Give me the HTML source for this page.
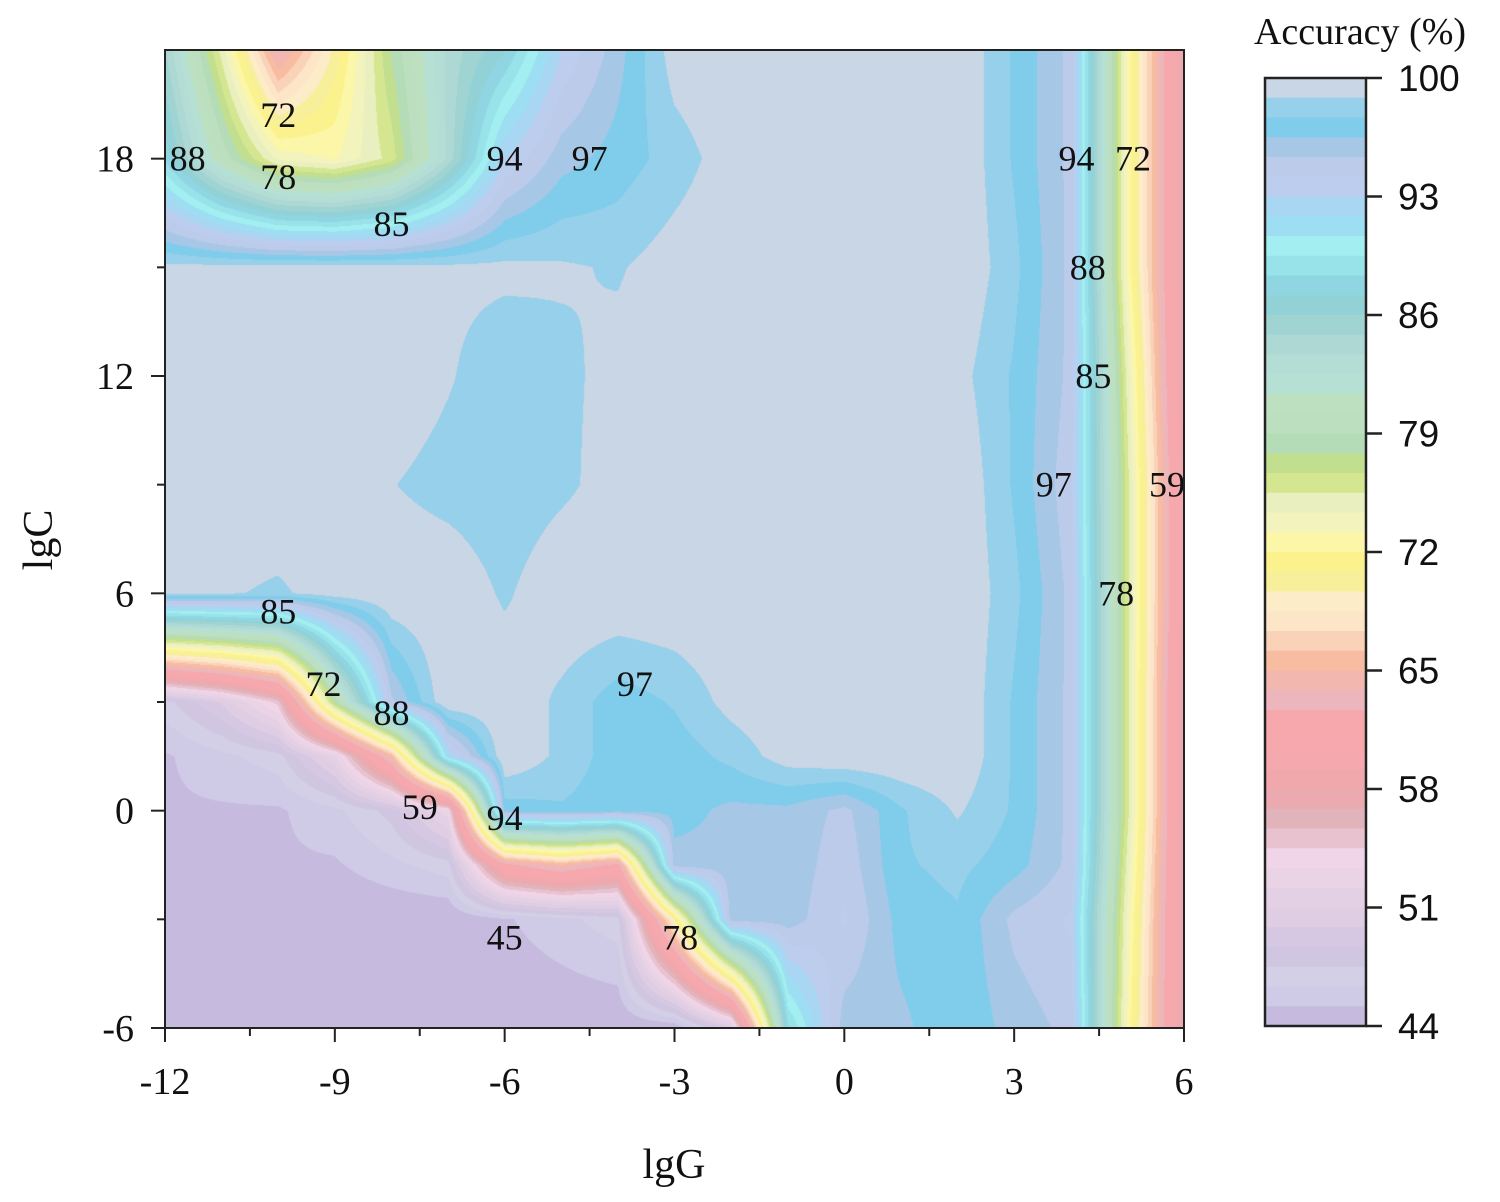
<!DOCTYPE html>
<html><head><meta charset="utf-8"><style>
html,body{margin:0;padding:0;background:#fff;}
#wrap{position:relative;width:1500px;height:1202px;font-family:"Liberation Serif",serif;}
canvas{position:absolute;left:165px;top:50px;}
svg{position:absolute;left:0;top:0;}
</style></head><body>
<div id="wrap">
<canvas id="cv" width="1019" height="978"></canvas>
<svg id="sv" width="1500" height="1202"></svg>
</div>
<script>
// lgG grid columns and lgC grid rows (top to bottom)
const lgGValues = [-12,-11,-10,-9,-8,-7,-6,-5,-4,-3,-2,-1,0,1,2,3,4,5,6];
const lgCValues = [21,18,15,12,9,6,3,1.5,0,-1.5,-3,-6];
// accuracy (%) at each grid node
const accRow21 = [85,75,63,70,78,84,87,93,96,99.5,100,100,100,100,100,97.5,95,73,57];
const accRow18 = [88,80,74,73,76,84,93,96,97,98.2,99.5,100,100,100,100,97.5,95,73,57];
const accRow15 = [99.2,99.3,99.3,99.3,99.3,99.2,99.2,99.0,98.7,99.5,100,100,100,100,100,98,95,73,57];
const accRow12 = [100,100,100,100,100,99,97.8,98.5,99.3,100,100,100,100,100,99.3,97.5,95,75,57];
const accRow9  = [100,100,100,100,98.9,98.2,97.8,98.5,99.5,100,100,100,100,100,100,97.5,94.5,76,58];
const accRow6  = [99,99,98.6,99.5,100,100,98.6,100,100,100,100,100,100,100,100,98,95,76,58];
const accRow3  = [47,50,55,78,95,100,100,98.5,97,97.8,99.3,100,100,100,100,97.5,95,76,57];
const accRow1p5= [45,46,47,52,65,92,100,98.5,97,97,98,99.5,100,100,100,97.5,95,76,57];
const accRow0  = [45,45,45,46,48,53,97,97.5,97,97,96.2,96.2,95,97.5,99,97.5,95,76,57];
const accRowM1p5=[44.5,44.5,45,45,46,47,62,65,62,96,96.2,96.2,94.5,97.5,98,97,95,75,57];
const accRowM3 = [44,44,44,44,44,44,45,46,47,70,96,96,94,97,97.5,95,94,74,57];
const accRowM6 = [44,44,44,44,44,44,44,44,44,44,50,88,96,96.2,97.5,96,95,73,57];
const accGrid = [accRow21,accRow18,accRow15,accRow12,accRow9,accRow6,accRow3,accRow1p5,accRow0,accRowM1p5,accRowM3,accRowM6];
// colour levels from 100 (top) down to 44
const levelColors = ["#c9d6e5","#97d0ea","#7fcdeb","#a6c8e6","#bccbea","#bdcdee","#a8d6f3","#9edef2","#a2eef0","#98e2ea","#8fd6e2","#92d2d6","#9fd4d3","#add8d4","#b4ddd6","#b6e0d4","#bde0c0","#bcdfbf","#b4dcb6","#c2de8f","#d4e690","#e9efbe","#f3f3be","#fbf6a8","#fbf28e","#f8ef9b","#fdecc8","#fde5c8","#f9d2b8","#f8bca0","#f2b8b0","#ecb6bc","#f6a8ac","#f6a8ac","#f5a9ae","#f1a8ac","#ebaab0","#e1b4bc","#e9c2cf","#efd5e7","#ebd3e6","#e3d0e5","#dfcde3","#d6c8e2","#d0c6e2","#d2cfe6","#cfcae5","#c6bbde"];
const xTicks = [-12,-9,-6,-3,0,3,6];
const yTicks = [-6,0,6,12,18];
const cbTicks = [100,93,86,79,72,65,58,51,44];
const contourLabels = ["88","72","78","85","94","97","94","72","88","85","97","59","78","85","72","88","97","59","94","45","78"];
const labelG = [-11.6,-10,-10,-8,-6,-4.5,4.1,5.1,4.3,4.4,3.7,5.7,4.8,-10,-9.2,-8,-3.7,-7.5,-6,-6,-2.9];
const labelC = [18,19.2,17.5,16.2,18,18,18,18,15,12,9,9,6,5.5,3.5,2.7,3.5,0.1,-0.2,-3.5,-3.5];

const X0=165,X1=1184,Y0=50,Y1=1028;
const GMIN=-12,GMAX=6,CMIN=-6,CMAX=21;
function xPx(g){return X0+(g-GMIN)*(X1-X0)/(GMAX-GMIN);}
function yPx(c){return Y1-(c-CMIN)*(Y1-Y0)/(CMAX-CMIN);}
function hex(c){return [parseInt(c.substr(1,2),16),parseInt(c.substr(3,2),16),parseInt(c.substr(5,2),16)];}
function valueAt(g,c){
  const gs=lgGValues, cs=lgCValues;
  let i=0;while(i<gs.length-2&&g>gs[i+1])i++;
  let j=0;while(j<cs.length-2&&c<cs[j+1])j++;
  const tx=(g-gs[i])/(gs[i+1]-gs[i]), ty=(c-cs[j])/(cs[j+1]-cs[j]);
  const a=accGrid[j][i],b=accGrid[j][i+1],d=accGrid[j+1][i],e=accGrid[j+1][i+1];
  return a*(1-tx)*(1-ty)+b*tx*(1-ty)+d*(1-tx)*ty+e*tx*ty;
}
const cv=document.getElementById('cv'),ctx=cv.getContext('2d');
const W=cv.width,H=cv.height,img=ctx.createImageData(W,H);
const rgb=levelColors.map(hex);
for(let py=0;py<H;py++){
  const c=CMAX-(py+0.5)*(CMAX-CMIN)/H;
  for(let px=0;px<W;px++){
    const g=GMIN+(px+0.5)*(GMAX-GMIN)/W;
    const v=valueAt(g,c);
    let k=Math.floor((100-v)/(56/48));if(k<0)k=0;if(k>47)k=47;
    const o=(py*W+px)*4;img.data[o]=rgb[k][0];img.data[o+1]=rgb[k][1];img.data[o+2]=rgb[k][2];img.data[o+3]=255;
  }
}
ctx.putImageData(img,0,0);

const NS='http://www.w3.org/2000/svg',sv=document.getElementById('sv');
function mk(tag,attrs,txt){const e=document.createElementNS(NS,tag);for(const k in attrs)e.setAttribute(k,attrs[k]);if(txt!==undefined)e.textContent=txt;sv.appendChild(e);return e;}
contourLabels.forEach((t,i)=>{
  const e=mk('text',{x:xPx(labelG[i]),y:yPx(labelC[i])+12,'font-size':36,'text-anchor':'middle',fill:'#111'},t);
  
  
});
let f=mk('rect',{x:X0,y:Y0,width:X1-X0,height:Y1-Y0,fill:'none',stroke:'#222','stroke-width':2});

for(let g=-12;g<=6.01;g+=1.5){
  const major=xTicks.includes(g);
  const t=mk('line',{x1:xPx(g),x2:xPx(g),y1:Y1,y2:Y1+(major?14:8),stroke:'#222','stroke-width':2});
  
}
xTicks.forEach(g=>{const e=mk('text',{x:xPx(g),y:1094,'font-size':38,'text-anchor':'middle',fill:'#111'},String(g));
  });
for(let c=-6;c<=18.01;c+=3){
  const major=yTicks.includes(c);
  const t=mk('line',{x1:X0,x2:X0-(major?14:8),y1:yPx(c),y2:yPx(c),stroke:'#222','stroke-width':2});
  
}
yTicks.forEach(c=>{const e=mk('text',{x:134,y:yPx(c)+13,'font-size':38,'text-anchor':'end',fill:'#111'},String(c));
  });
let xt=mk('text',{x:674,y:1178,'font-size':42,'text-anchor':'middle',fill:'#111'},'lgG');

let yt=mk('text',{x:52,y:540,'font-size':42,'text-anchor':'middle',fill:'#111',transform:'rotate(-90 52 540)'},'lgC');

const CBX=1265,CBW=101,CBY0=78,CBY1=1026,bh=(CBY1-CBY0)/levelColors.length;
levelColors.forEach((col,i)=>{const r=mk('rect',{x:CBX,y:CBY0+i*bh,width:CBW,height:bh+0.6,fill:col});
  });
let cb=mk('rect',{x:CBX,y:CBY0,width:CBW,height:CBY1-CBY0,fill:'none',stroke:'#222','stroke-width':2.5});

cbTicks.forEach(v=>{const y=CBY0+(100-v)*(CBY1-CBY0)/56;
  const l=mk('line',{x1:CBX+CBW,x2:CBX+CBW+16,y1:y,y2:y,stroke:'#222','stroke-width':2.5});
  
  const t=mk('text',{x:1398,y:y+13,'font-size':37,fill:'#111','font-family':'Liberation Sans, sans-serif'},String(v));
  });
let ct=mk('text',{x:1360,y:44,'font-size':38,'text-anchor':'middle',fill:'#111'},'Accuracy (%)');

</script>
</body></html>
